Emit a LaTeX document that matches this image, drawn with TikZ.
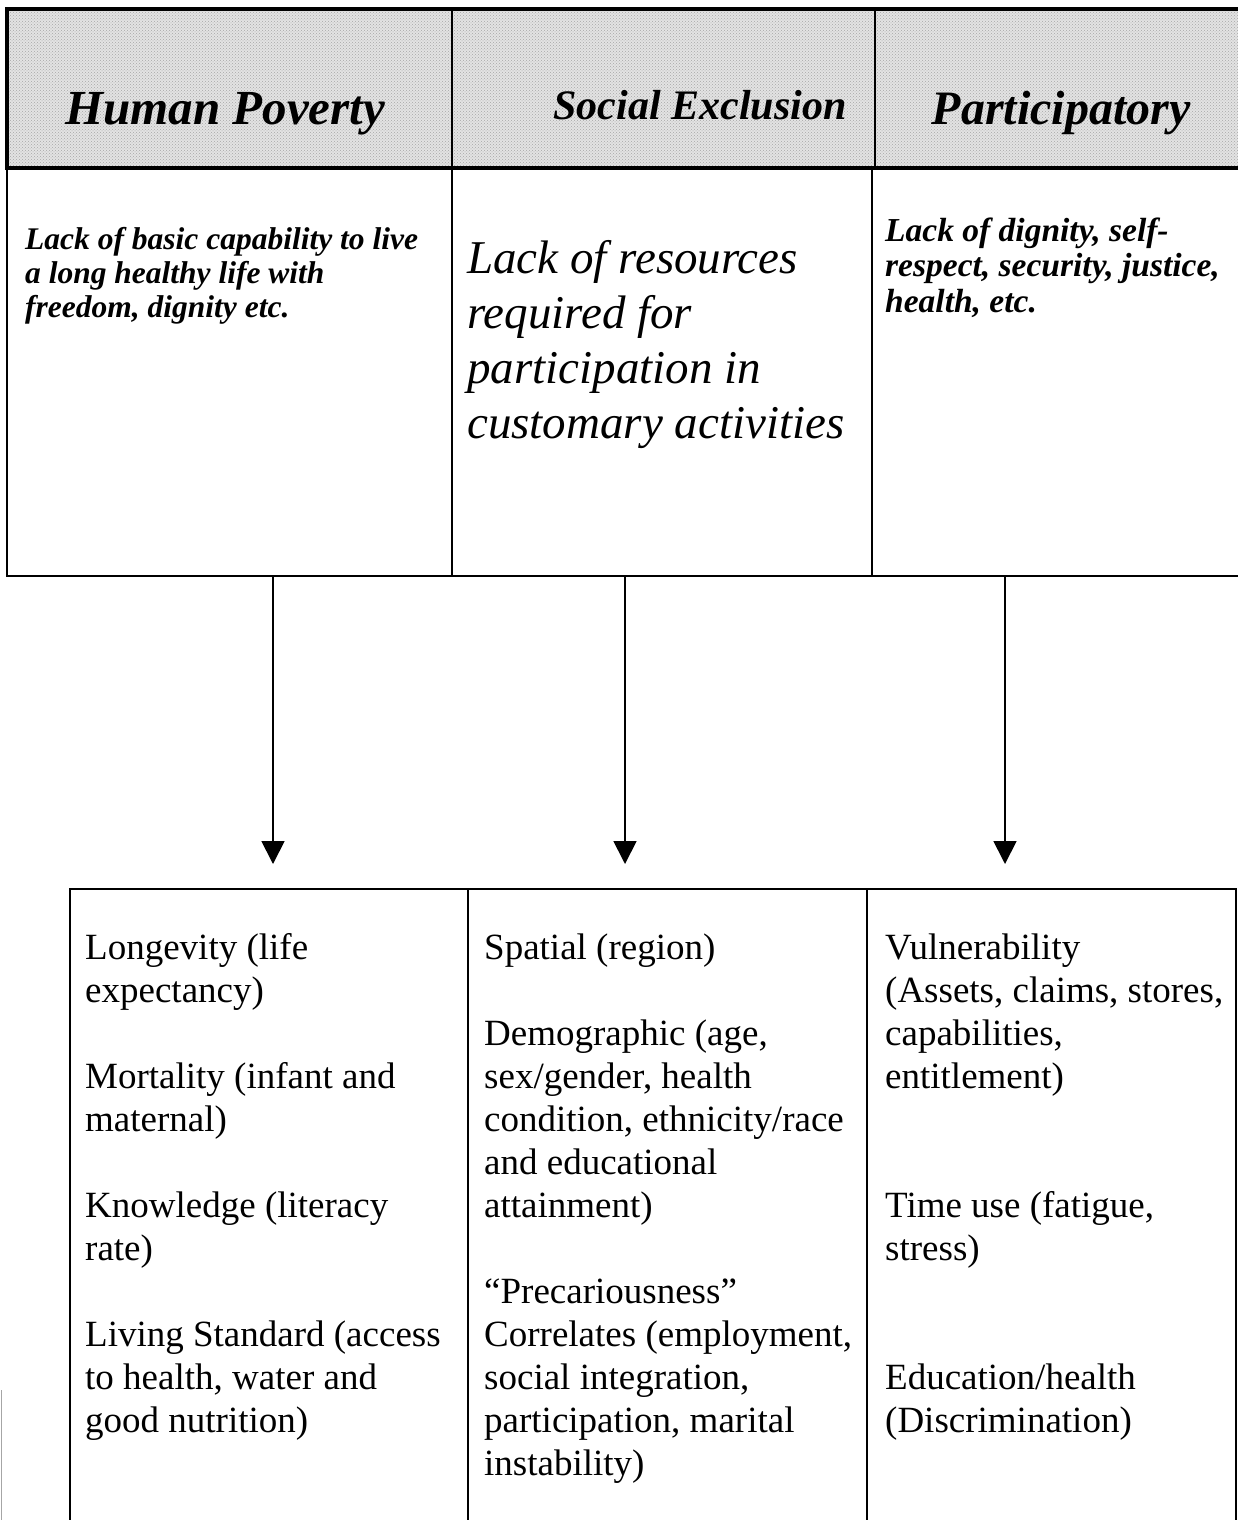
\documentclass[tikz,border=0pt]{standalone}
\usepackage{fontspec}
\setmainfont{Liberation Serif}
\usetikzlibrary{arrows.meta,patterns}

\tikzset{
  rule/.style={line width=1.8pt, line cap=rect},
  hdrrule/.style={line width=4pt, line cap=rect},
  hdrtext/.style={inner sep=0pt, anchor=base, font=\bfseries\itshape},
  txt/.style={inner sep=0pt, anchor=base west, align=left},
  flow/.style={line width=1.8pt, -{Triangle[width=23pt,length=23pt]}},
}
% a top-aligned paragraph whose baseline is its first line
\newcommand{\cellpar}[2]{\parbox[t]{#1}{\raggedright #2}}

\begin{document}
\begin{tikzpicture}[x=1pt,y=-1pt]
\useasboundingbox (0,0) rectangle (1238,1520);

% ---- shaded heading band
\fill[gray!22] (7,8) rectangle (1238,169);
\fill[pattern=crosshatch dots, pattern color=gray!70] (7,8) rectangle (1238,169);
\draw[hdrrule] (1238,9) -- (7,9) -- (7,168) -- (1238,168);
\draw[line width=1.5pt] (452,10) -- (452,168);
\draw[line width=1.5pt] (875,10) -- (875,168);

\node[hdrtext, font=\fontsize{49}{55}\selectfont\bfseries\itshape] (h1) at (225,124) {Human Poverty};
\node[hdrtext, font=\fontsize{42}{48}\selectfont\bfseries\itshape] (h2) at (700,119) {Social Exclusion};
\node[hdrtext, font=\fontsize{48}{54}\selectfont\bfseries\itshape] (h3) at (1061,124) {Participatory};

% ---- definitions row
\draw[rule] (7,168) -- (7,576) -- (1238,576);
\draw[rule] (452,168) -- (452,576);
\draw[rule] (872,168) -- (872,576);

\node[txt, font=\fontsize{31.5}{34}\selectfont\bfseries\itshape] (d1) at (25,249)
  {\cellpar{420pt}{Lack of basic capability to live\\a long healthy life with\\freedom, dignity etc.}};
\node[txt, font=\fontsize{47}{55}\selectfont\itshape] (d2) at (467,273)
  {\cellpar{400pt}{Lack of resources\\required for\\participation in\\customary activities}};
\node[txt, font=\fontsize{33.5}{35.5}\selectfont\bfseries\itshape] (d3) at (885,241)
  {\cellpar{360pt}{Lack of dignity, self-\\respect, security, justice,\\health, etc.}};

% ---- arrows down to the indicators
\coordinate (s1) at (273,576);  \coordinate (e1) at (273,864);
\coordinate (s2) at (625,576);  \coordinate (e2) at (625,864);
\coordinate (s3) at (1005,576); \coordinate (e3) at (1005,864);
\draw[flow] (s1) -- (e1);
\draw[flow] (s2) -- (e2);
\draw[flow] (s3) -- (e3);

% ---- indicators row
\draw[rule] (70,1525) -- (70,889) -- (1236,889) -- (1236,1525);
\draw[rule] (468,889) -- (468,1525);
\draw[rule] (867,889) -- (867,1525);
\draw[gray!70, line width=1pt] (1,1390) -- (1,1520);

\tikzset{item/.style={txt, font=\fontsize{37}{43}\selectfont}}
\node[item] (a1) at (85,959)   {\cellpar{380pt}{Longevity (life\\expectancy)}};
\node[item] (a2) at (85,1088)  {\cellpar{380pt}{Mortality (infant and\\maternal)}};
\node[item] (a3) at (85,1217)  {\cellpar{380pt}{Knowledge (literacy\\rate)}};
\node[item] (a4) at (85,1346)  {\cellpar{380pt}{Living Standard (access\\to health, water and\\good nutrition)}};

\node[item] (b1) at (484,959)  {\cellpar{380pt}{Spatial (region)}};
\node[item] (b2) at (484,1045) {\cellpar{380pt}{Demographic (age,\\sex/gender, health\\condition, ethnicity/race\\and educational\\attainment)}};
\node[item] (b3) at (484,1303) {\cellpar{380pt}{“Precariousness”\\Correlates (employment,\\social integration,\\participation, marital\\instability)}};

\node[item] (c1) at (885,959)  {\cellpar{350pt}{Vulnerability\\(Assets, claims, stores,\\capabilities,\\entitlement)}};
\node[item] (c2) at (885,1217) {\cellpar{350pt}{Time use (fatigue,\\stress)}};
\node[item] (c3) at (885,1389) {\cellpar{350pt}{Education/health\\(Discrimination)}};
\end{tikzpicture}
\end{document}
